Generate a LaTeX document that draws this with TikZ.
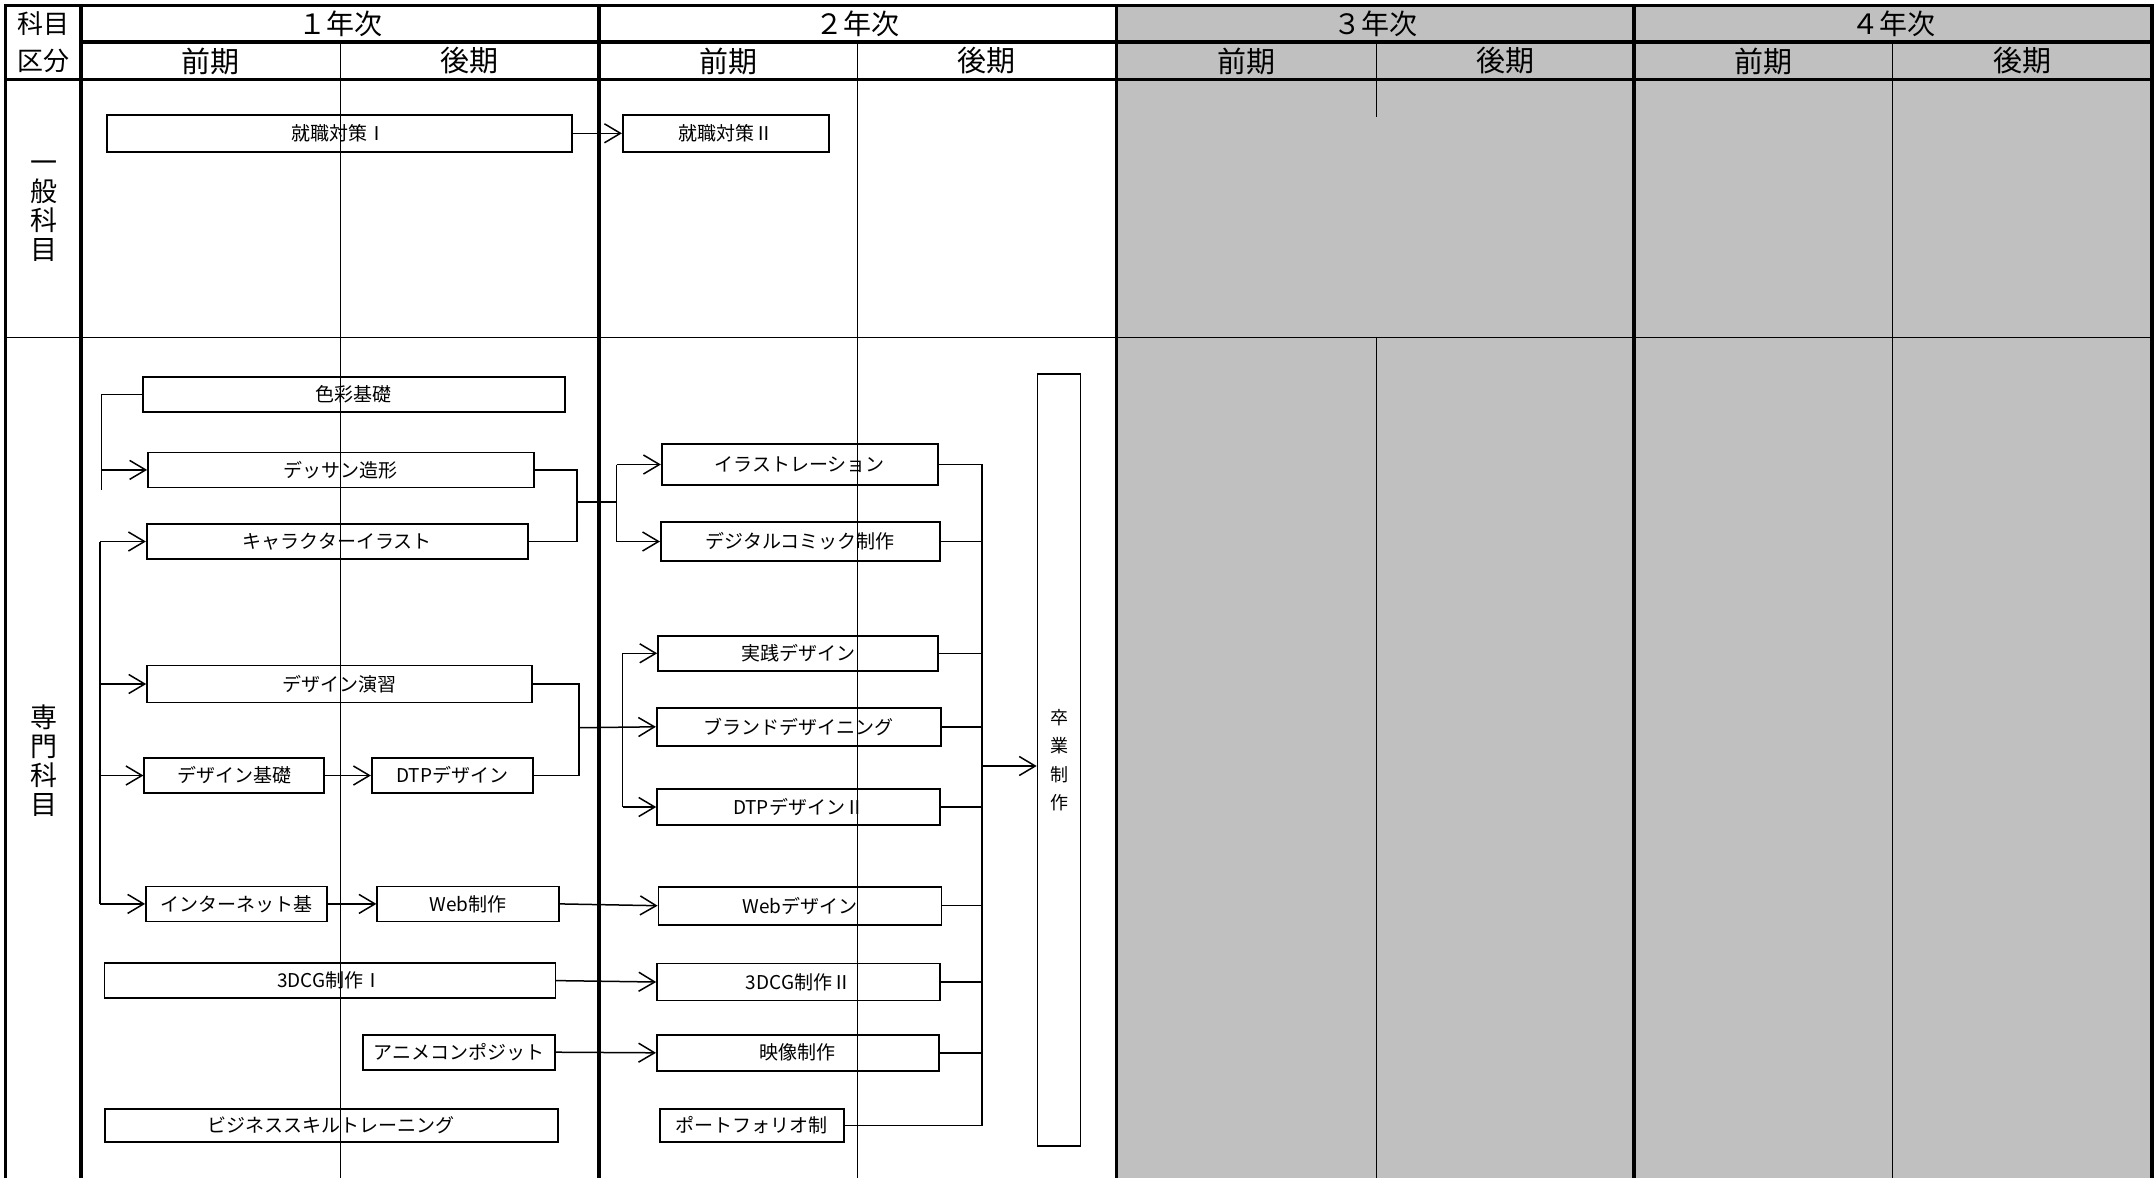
\documentclass[tikz,border=0pt]{standalone}
\usepackage{fontspec}
\setmainfont{Noto Sans CJK JP}
\usepackage{tikz}
\usetikzlibrary{arrows.meta}
\definecolor{later}{RGB}{192,192,192}

\begin{document}
\begin{tikzpicture}[x=1pt,y=-1pt,
 frame/.style={line width=3.2pt},
 sub/.style={line width=1pt},
 head/.style={inner sep=0pt,font=\fontsize{28}{28}\selectfont},
 side/.style={inner sep=0pt,align=center,font=\fontsize{27}{29}\selectfont},
 course/.style={draw,line width=1.6pt,inner sep=0pt,minimum height=35pt,font=\fontsize{19}{19}\selectfont},
 link/.style={line width=1.5pt},
 go/.style={link,-{Straight Barb[length=16pt,width=19pt,line width=1.5pt]}}]
 \useasboundingbox (0,0) rectangle (2155,1178);
 \fill[white] (0,0) rectangle (2155,1178);
 \fill[later] (1116,5.5) rectangle (2152,1178);
 \draw[sub] (5.5,337) -- (2152,337);
 \draw[sub] (340,42) -- (340,1178);
 \draw[sub] (857.6,42) -- (857.6,1178);
 \draw[sub] (1376.5,42) -- (1376.5,117) (1376.5,337) -- (1376.5,1178);
 \draw[sub] (1892.6,42) -- (1892.6,1178);
 \draw[frame] (5.5,1178) -- (5.5,5.5) -- (2152,5.5) -- (2152,1178);
 \draw[frame] (81,42) -- (2152,42);
 \draw[frame] (5.5,79.5) -- (2152,79.5);
 \foreach \x in {81,599,1116.5,1634} \draw[frame] (\x,5.5) -- (\x,1178);

 \node[head,font=\fontsize{26}{26}\selectfont] (kamoku) at (43,24) {科目};
 \node[head,font=\fontsize{26}{26}\selectfont] (kubun) at (43,61) {区分};
 \foreach \n/\x [count=\i] in {１/340,２/857.5,３/1375,４/1893}
  \node[head] (year\i) at (\x,24) {{\n}年次};
 \foreach \x [count=\i] in {210.5,728.3,1246,1763}
  \node[head,font=\fontsize{29}{29}\selectfont] (zenki\i) at (\x,61) {前期};
 \foreach \x [count=\i] in {469.5,986.8,1505,2022}
  \node[head,font=\fontsize{29}{29}\selectfont] (koki\i) at (\x,61) {後期};
 \node[side] (ippan) at (44,211) {一\\般\\科\\目};
 \node[side] (senmon) at (44,761) {専\\門\\科\\目};

 \node[course,minimum width=465pt,minimum height=37pt] (shu1) at (339.3,133.3) {就職対策Ⅰ};
 \node[course,minimum width=206pt,minimum height=37pt] (shu2) at (725.7,133.3) {就職対策Ⅱ};
 \node[course,minimum width=422pt] (shikisai) at (353.9,394.5) {色彩基礎};
 \node[course,minimum width=386pt] (dessin) at (340.9,469.9) {デッサン造形};
 \node[course,minimum width=381pt] (chara) at (337.2,541.5) {キャラクターイラスト};
 \node[course,minimum width=385pt,minimum height=37pt] (ensyu) at (339.5,684) {デザイン演習};
 \node[course,minimum width=180pt] (kiso) at (234.2,775.5) {デザイン基礎};
 \node[course,minimum width=161pt] (dtp1) at (452.2,775.5) {DTPデザイン};
 \node[course,minimum width=181pt] (inet) at (236.4,903.9) {インターネット基};
 \node[course,minimum width=182pt] (web1) at (468.2,903.9) {Web制作};
 \node[course,minimum width=451pt] (cg1) at (329.9,980.6) {3DCG制作Ⅰ};
 \node[course,minimum width=192pt] (anime) at (459,1052.2) {アニメコンポジット};
 \node[course,minimum width=453pt,minimum height=33pt] (biz) at (331.2,1125.5) {ビジネススキルトレーニング};

 \node[course,minimum width=276pt,minimum height=41pt] (illust) at (799.7,464.5) {イラストレーション};
 \node[course,minimum width=279pt,minimum height=39pt] (comic) at (800.3,541.5) {デジタルコミック制作};
 \node[course,minimum width=280pt] (jissen) at (798,653.3) {実践デザイン};
 \node[course,minimum width=284pt,minimum height=38pt] (brand) at (798.7,726.8) {ブランドデザイニング};
 \node[course,minimum width=283pt,minimum height=36pt] (dtp2) at (798.5,807) {DTPデザインⅡ};
 \node[course,minimum width=283pt,minimum height=38pt] (webd) at (799.9,905.7) {Webデザイン};
 \node[course,minimum width=283pt,minimum height=37pt] (cg2) at (798.5,982) {3DCG制作Ⅱ};
 \node[course,minimum width=282pt,minimum height=36pt] (eizo) at (797.8,1052.8) {映像制作};
 \node[course,minimum width=184pt,minimum height=33pt] (pf) at (751.8,1125.5) {ポートフォリオ制};
 \node[course,minimum width=43pt,minimum height=772pt,align=center,font=\fontsize{18}{28.5}\selectfont] (sotsu) at (1059,760.2) {卒\\業\\制\\作};

 \draw[go] (shu1.east) -- (shu2.west);

 \coordinate (lx0) at (101.7,490);
 \draw[link] (shikisai.west) -| (lx0);
 \draw[go] (lx0 |- dessin.west) -- (dessin.west);
 \coordinate (lx) at (100,0);
 \draw[link] (lx |- chara.west) -- (lx |- inet.west);
 \foreach \b in {chara,ensyu,kiso,inet}
  \draw[go] (lx |- \b.west) -- (\b.west);
 \draw[go] (kiso.east) -- (dtp1.west);
 \draw[go] (inet.east) -- (web1.west);

 \coordinate (m1) at (577,502);
 \coordinate (s1) at (616.7,502);
 \draw[link] (dessin.east) -| (m1 |- chara.east) -- (chara.east);
 \draw[link] (m1) -- (s1);
 \draw[link] (s1 |- illust.west) -- (s1 |- comic.west);
 \draw[go] (s1 |- illust.west) -- (illust.west);
 \draw[go] (s1 |- comic.west) -- (comic.west);

 \coordinate (m2) at (579,727.7);
 \coordinate (s2) at (622.7,0);
 \draw[link] (ensyu.east) -| (m2 |- dtp1.east) -- (dtp1.east);
 \draw[go] (m2) -- (brand.west);
 \draw[link] (s2 |- jissen.west) -- (s2 |- dtp2.west);
 \draw[go] (s2 |- jissen.west) -- (jissen.west);
 \draw[go] (s2 |- dtp2.west) -- (dtp2.west);

 \draw[go] (web1.east) -- (webd.west);
 \draw[go] (cg1.east) -- (cg2.west);
 \draw[go] (anime.east) -- (eizo.west);

 \coordinate (rx) at (982,0);
 \draw[link] (illust.east) -| (rx |- pf.east) -- (pf.east);
 \foreach \b in {comic,jissen,brand,dtp2,webd,cg2,eizo}
  \draw[link] (\b.east) -- (rx |- \b.east);
 \coordinate (rin) at (982,766);
 \draw[go] (rin) -- (rin -| sotsu.west);
\end{tikzpicture}
\end{document}
